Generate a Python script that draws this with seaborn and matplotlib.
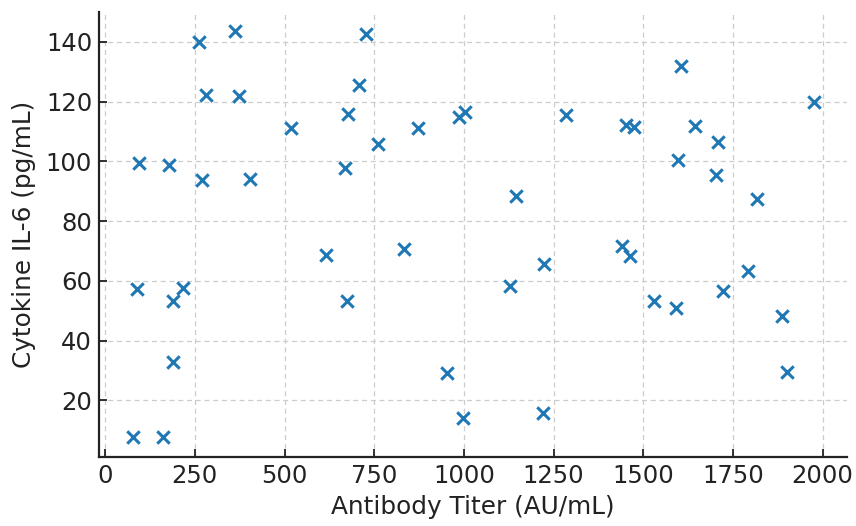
import numpy as np
import pandas as pd
import matplotlib
matplotlib.use("Agg")
import matplotlib.pyplot as plt
import seaborn as sns

# Antibody titer (AU/mL) and IL-6 concentration (pg/mL) per sample
titer = [77, 161, 93, 90, 177, 189, 189, 217, 263, 281, 270, 362, 373, 404,
         519, 616, 669, 676, 674, 709, 727, 761, 834, 872, 954, 987, 1002,
         997, 1145, 1129, 1224, 1220, 1284, 1440, 1464, 1452, 1475, 1531,
         1596, 1604, 1591, 1645, 1709, 1703, 1722, 1793, 1817, 1886, 1901, 1975]
il6 = [7.8, 7.6, 99.4, 57.1, 98.7, 53.3, 32.8, 57.7, 139.9, 122.3, 93.6,
       143.6, 121.8, 94.1, 111.3, 68.6, 97.9, 116.0, 53.3, 125.7, 142.7,
       105.7, 70.5, 111.2, 29.1, 114.8, 116.5, 14.0, 88.3, 58.2, 65.5, 15.8,
       115.6, 71.7, 68.3, 112.1, 111.4, 53.2, 100.5, 131.8, 51.0, 111.8,
       106.4, 95.4, 56.7, 63.2, 87.3, 48.3, 29.4, 119.8]

df = pd.DataFrame({"Antibody Titer (AU/mL)": titer, "Cytokine IL-6 (pg/mL)": il6})

sns.set_theme(style="ticks")
plt.rcParams["font.family"] = ["DejaVu Sans"]
plt.rcParams.update({
    "xtick.direction": "in",
    "ytick.direction": "in",
    "xtick.major.size": 6,
    "ytick.major.size": 6,
    "xtick.major.width": 1.3,
    "ytick.major.width": 1.3,
    "axes.linewidth": 1.6,
    "axes.edgecolor": "#222222",
    "xtick.color": "#222222",
    "ytick.color": "#222222",
    "axes.labelcolor": "#222222",
})

fig = plt.figure(figsize=(8.56, 5.26), dpi=100)
ax = fig.add_axes([0.1157, 0.1312, 0.8738, 0.846])

sns.scatterplot(data=df, x="Antibody Titer (AU/mL)", y="Cytokine IL-6 (pg/mL)",
                marker="x", s=80, linewidth=2.2, color="#1f77b4", ax=ax, zorder=3)

ax.set_xticks([0, 250, 500, 750, 1000, 1250, 1500, 1750, 2000])
ax.set_yticks([20, 40, 60, 80, 100, 120, 140])
ax.set_xlim(-17, 2068)
ax.set_ylim(1.0, 150.0)
ax.grid(True, linestyle=(0, (4, 3)), color="#cccccc", linewidth=0.9)
ax.set_axisbelow(True)
sns.despine(ax=ax)

ax.tick_params(labelsize=17.5, pad=5)
ax.set_xlabel("Antibody Titer (AU/mL)", fontsize=17.8, labelpad=5)
ax.set_ylabel("Cytokine IL-6 (pg/mL)", fontsize=17.8, labelpad=7)

fig.savefig("out.png", dpi=100)
